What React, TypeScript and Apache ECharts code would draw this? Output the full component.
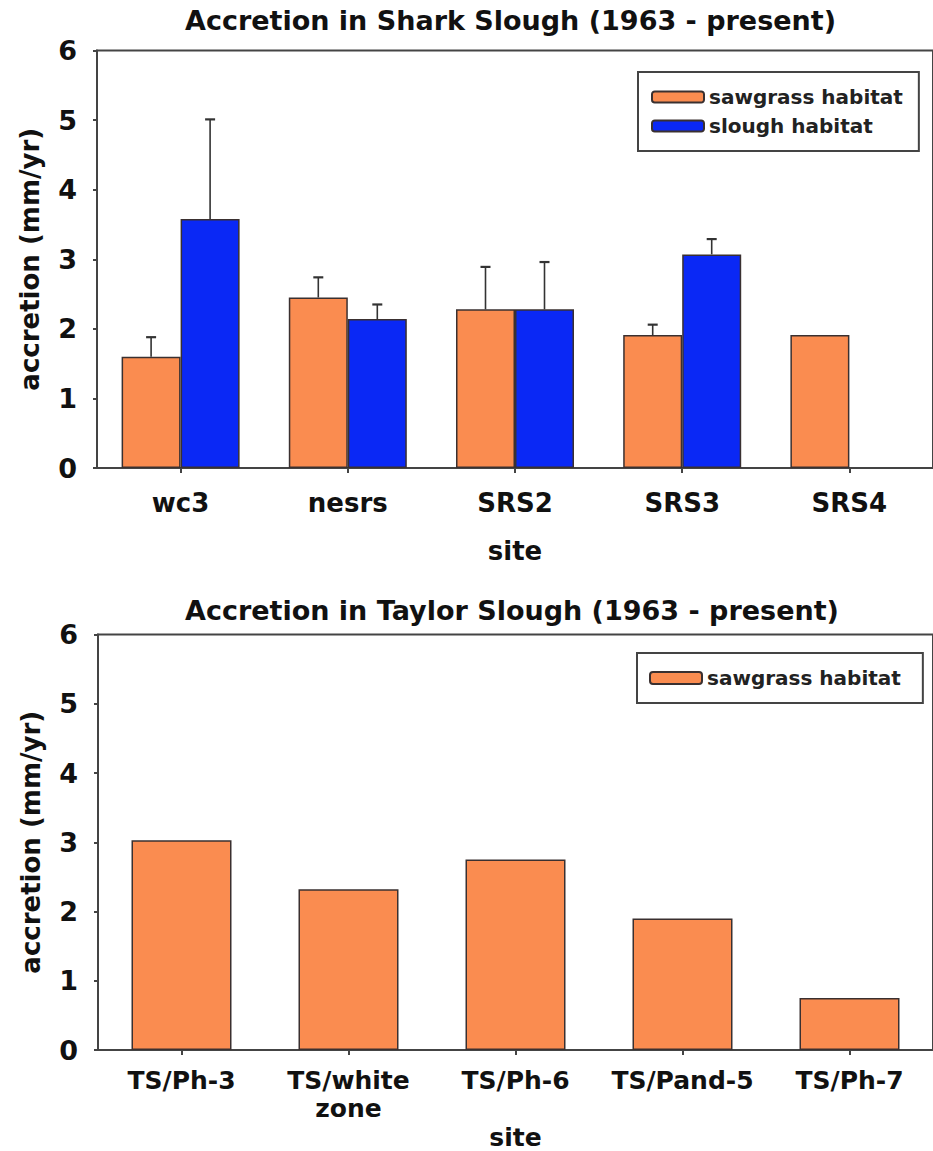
import React, { useEffect, useRef } from "react";
import * as echarts from "echarts";

// ---- data ----
const sharkSites = ["wc3", "nesrs", "SRS2", "SRS3", "SRS4"];
const sharkSawgrass = [1.6, 2.45, 2.28, 1.91, 1.91];
const sharkSawgrassErr = [0.28, 0.29, 0.61, 0.15, 0];
const sharkSlough = [3.58, 2.14, 2.28, 3.07, null];
const sharkSloughErr = [1.43, 0.21, 0.68, 0.22, 0];

const taylorSites = ["TS/Ph-3", "TS/white\nzone", "TS/Ph-6", "TS/Pand-5", "TS/Ph-7"];
const taylorSawgrass = [3.03, 2.32, 2.75, 1.9, 0.75];

const yMin = 0;
const yMax = 6;
const yStep = 1;

const titles = [
  "Accretion in Shark Slough (1963 - present)",
  "Accretion in Taylor Slough (1963 - present)",
];
const seriesNames = ["sawgrass habitat", "slough habitat"];
const yName = "accretion (mm/yr)";
const xName = "site";

// ---- styles ----
const FONT = "DejaVu Sans";
const ORANGE = "#FA8C50";
const BLUE = "#0A28F5";
const EDGE = "#3a3030";
const AXIS = "#444";
const BAR_W = 59;

export default function App() {
  const ref = useRef<HTMLDivElement>(null);

  useEffect(() => {
    if (!ref.current) return;
    const chart = echarts.init(ref.current, null, { renderer: "svg" });

    const errData = (vals: (number | null)[], errs: number[], side: number) =>
      vals
        .map((v, i) => (v != null && errs[i] ? [i, v, errs[i], side] : null))
        .filter((d) => d !== null);

    const renderErr = (params: any, api: any) => {
      const i = api.value(0);
      const v = api.value(1);
      const e = api.value(2);
      const side = api.value(3);
      const base = api.coord([i, v]);
      const top = api.coord([i, v + e]);
      const x = base[0] + side * (BAR_W / 2);
      return {
        type: "group",
        children: [
          {
            type: "line",
            shape: { x1: x, y1: base[1], x2: x, y2: top[1] },
            style: { stroke: "#333", lineWidth: 1.6 },
          },
          {
            type: "line",
            shape: { x1: x - 5, y1: top[1], x2: x + 5, y2: top[1] },
            style: { stroke: "#333", lineWidth: 2.2 },
          },
        ],
      };
    };

    const textBase = { fontFamily: FONT, fontWeight: "bold", color: "#111" };

    const makeX = (
      gridIndex: number,
      data: string[],
      margin: number,
      gap: number,
      labelSize: number,
      labelLine: number,
      nameSize: number
    ) => ({
      type: "category",
      gridIndex,
      data,
      boundaryGap: true,
      axisLine: { show: true, lineStyle: { color: AXIS, width: 2 } },
      axisTick: { show: true, alignWithLabel: true, length: 5, lineStyle: { color: AXIS, width: 2 } },
      axisLabel: { ...textBase, fontSize: labelSize, margin, interval: 0, lineHeight: labelLine },
      name: xName,
      nameLocation: "middle",
      nameGap: gap,
      nameTextStyle: { ...textBase, fontSize: nameSize },
    });

    const makeY = (gridIndex: number) => ({
      type: "value",
      gridIndex,
      min: yMin,
      max: yMax,
      interval: yStep,
      axisLine: { show: true, lineStyle: { color: AXIS, width: 2 } },
      axisTick: { show: true, length: 4, lineStyle: { color: AXIS, width: 2 } },
      splitLine: { show: false },
      axisLabel: { ...textBase, fontSize: 27, margin: 20 },
      name: yName,
      nameLocation: "middle",
      nameRotate: 90,
      nameGap: 54,
      nameTextStyle: { ...textBase, fontSize: 26 },
    });

    const legendBase = {
      orient: "vertical",
      itemWidth: 52,
      itemHeight: 11,
      itemGap: 9,
      backgroundColor: "#fff",
      borderColor: "#444",
      borderWidth: 2,
      borderRadius: 0,
      textStyle: { ...textBase, fontSize: 20, color: "#222" },
      selectedMode: false,
    };

    const barStyle = (color: string) => ({
      color,
      borderColor: EDGE,
      borderWidth: 1.5,
    });

    chart.setOption({
      animation: false,
      backgroundColor: "#fff",
      title: [
        {
          text: titles[0],
          left: 180,
          top: 2,
          textStyle: { ...textBase, fontSize: 27 },
        },
        {
          text: titles[1],
          left: 180,
          top: 592,
          textStyle: { ...textBase, fontSize: 27 },
        },
      ],
      legend: [
        {
          ...legendBase,
          data: [seriesNames[0], seriesNames[1]],
          left: 638,
          top: 72,
          padding: [15, 16, 15, 13],
        },
        {
          ...legendBase,
          itemHeight: 12,
          data: [seriesNames[0]],
          left: 637,
          top: 653,
          padding: [15, 22, 15, 12],
        },
      ],
      grid: [
        {
          left: 97,
          top: 50.5,
          width: 845,
          height: 417.5,
          show: true,
          borderColor: AXIS,
          borderWidth: 2,
          backgroundColor: "transparent",
        },
        {
          left: 98,
          top: 634.5,
          width: 845,
          height: 421,
          show: true,
          borderColor: AXIS,
          borderWidth: 2,
          backgroundColor: "transparent",
        },
      ],
      xAxis: [
        makeX(0, sharkSites, 22, 70, 26, 26, 26),
        makeX(1, taylorSites, 16, 75, 25, 28, 25),
      ],
      yAxis: [makeY(0), makeY(1)],
      series: [
        {
          name: seriesNames[0],
          type: "bar",
          xAxisIndex: 0,
          yAxisIndex: 0,
          data: sharkSawgrass,
          barWidth: BAR_W,
          barGap: "0%",
          itemStyle: barStyle(ORANGE),
        },
        {
          name: seriesNames[1],
          type: "bar",
          xAxisIndex: 0,
          yAxisIndex: 0,
          data: sharkSlough,
          barWidth: BAR_W,
          barGap: "0%",
          itemStyle: barStyle(BLUE),
        },
        {
          type: "custom",
          xAxisIndex: 0,
          yAxisIndex: 0,
          z: 5,
          renderItem: renderErr,
          data: errData(sharkSawgrass, sharkSawgrassErr, -1),
          silent: true,
        },
        {
          type: "custom",
          xAxisIndex: 0,
          yAxisIndex: 0,
          z: 5,
          renderItem: renderErr,
          data: errData(sharkSlough, sharkSloughErr, 1),
          silent: true,
        },
        {
          name: seriesNames[0],
          type: "bar",
          xAxisIndex: 1,
          yAxisIndex: 1,
          data: taylorSawgrass,
          barWidth: 100,
          itemStyle: barStyle(ORANGE),
        },
      ],
    });

    return () => chart.dispose();
  }, []);

  return (
    <div
      ref={ref}
      style={{ position: "absolute", left: 0, top: 0, width: 933, height: 1151 }}
    />
  );
}
